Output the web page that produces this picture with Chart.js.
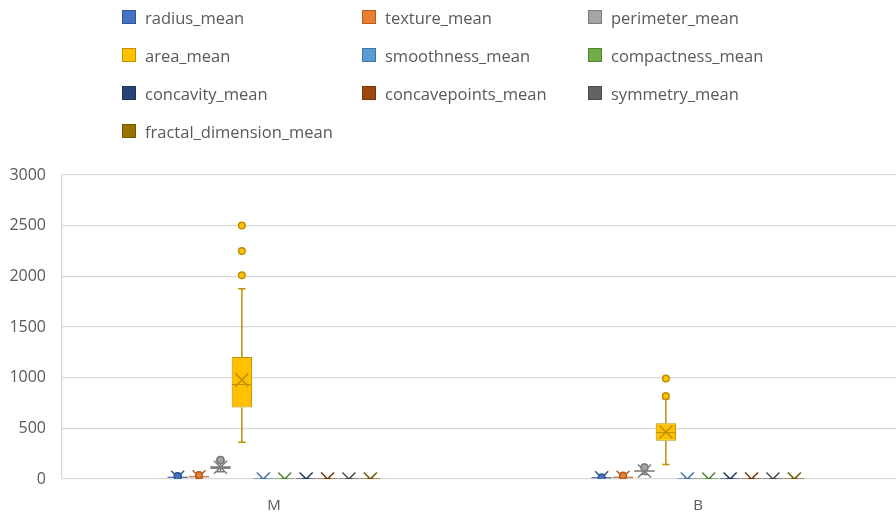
<!DOCTYPE html>
<html>
<head>
<meta charset="utf-8">
<script src="https://cdn.jsdelivr.net/npm/chart.js@4.4.1/dist/chart.umd.min.js"></script>
<style>
body{margin:0;overflow:hidden;background:#fff;font-family:"Open Sans",sans-serif}
#wrap{position:relative;width:910px;height:516px}
#legend{position:absolute;left:0;top:0;width:896px;height:150px}
.item{position:absolute;display:flex;align-items:center;color:#595959;font-size:16.5px;white-space:nowrap}
.item span.box{display:inline-block;width:14px;height:14px;margin-right:9px;box-sizing:border-box;border:1px solid}
</style>
</head>
<body>
<div id="wrap">
  <canvas id="chart" width="910" height="516"></canvas>
  <div id="legend"></div>
</div>
<script>
const categories = ['M', 'B'];
const seriesNames = ['radius_mean', 'texture_mean', 'perimeter_mean', 'area_mean', 'smoothness_mean',
    'compactness_mean', 'concavity_mean', 'concavepoints_mean', 'symmetry_mean', 'fractal_dimension_mean'];
const seriesColors = ['#4472C4', '#ED7D31', '#A5A5A5', '#FFC000', '#5B9BD5',
    '#70AD47', '#264478', '#9E480E', '#636363', '#997300'];

// each entry is [M, B]
const whiskerMin = [[10.95, 6.98], [10.4, 9.7], [71.9, 43.8], [361.6, 143.5], [0.07, 0.05],
    [0.05, 0.02], [0.02, 0], [0.02, 0], [0.13, 0.11], [0.05, 0.05]];
const q1 = [[15.1, 11.1], [19.3, 15.1], [98.7, 70.9], [705, 378], [0.09, 0.08],
    [0.11, 0.06], [0.11, 0.02], [0.06, 0.01], [0.17, 0.16], [0.06, 0.06]];
const median = [[17.3, 12.2], [21.5, 17.4], [114.2, 78.2], [932, 458], [0.1, 0.09],
    [0.13, 0.08], [0.15, 0.04], [0.09, 0.02], [0.19, 0.17], [0.06, 0.06]];
const q3 = [[19.6, 13.4], [23.8, 19.8], [129.9, 86.1], [1204, 551], [0.11, 0.1],
    [0.17, 0.1], [0.2, 0.06], [0.1, 0.03], [0.21, 0.19], [0.07, 0.07]];
const whiskerMax = [[25.2, 16.8], [30, 26.6], [171.5, 108.4], [1878, 790], [0.14, 0.13],
    [0.28, 0.16], [0.33, 0.12], [0.2, 0.06], [0.27, 0.24], [0.08, 0.08]];
const means = [[17.5, 12.1], [21.6, 17.9], [115.4, 78.1], [978, 463], [0.1, 0.09],
    [0.15, 0.08], [0.16, 0.05], [0.09, 0.03], [0.19, 0.17], [0.06, 0.06]];
const outliers = [[[27.2, 28.1], [17.9]], [[33.6, 39.3], [29.9, 33.8]], [[182.1, 186.9, 188.5], [112.8, 114.6]],
    [[2010, 2250, 2501], [819, 992]], [[], []], [[], []], [[], []], [[], []], [[], []], [[], []]];
const yTicks = [0, 500, 1000, 1500, 2000, 2500, 3000];

function darken(hex, f) {
    const n = parseInt(hex.slice(1), 16);
    const r = Math.round(((n >> 16) & 255) * f), g = Math.round(((n >> 8) & 255) * f), b = Math.round((n & 255) * f);
    return `rgb(${r},${g},${b})`;
}

// legend (3 columns)
const colLeft = [122, 362, 588];
const legend = document.getElementById('legend');
seriesNames.forEach((name, i) => {
    const top = 17 + Math.floor(i / 3) * 38;
    legend.insertAdjacentHTML('beforeend',
        `<div class="item" style="left:${colLeft[i % 3]}px;top:${top - 11}px;height:22px">
            <span class="box" style="background:${seriesColors[i]};border-color:${darken(seriesColors[i], 0.75)}"></span>${name}
        </div>`);
});

const datasets = seriesNames.map((name, i) => ({
    label: name,
    data: categories.map((c, j) => [q1[i][j], q3[i][j]]),
    backgroundColor: seriesColors[i],
    borderColor: darken(seriesColors[i], 0.75),
    borderWidth: 1,
    borderSkipped: false,
    barPercentage: 0.95,
    categoryPercentage: 0.505
}));

// whiskers, medians, means and outliers on top of the box bars
const boxExtras = {
    id: 'boxExtras',
    afterDatasetsDraw(chart) {
        const ctx = chart.ctx, y = chart.scales.y, area = chart.chartArea;
        ctx.save();
        ctx.beginPath();
        ctx.rect(area.left, area.top, area.right - area.left, area.bottom - area.top);
        ctx.clip();
        chart.data.datasets.forEach((ds, i) => {
            const meta = chart.getDatasetMeta(i);
            const col = ds.borderColor;
            meta.data.forEach((el, j) => {
                const x = el.x, w = el.width;
                ctx.strokeStyle = col;
                ctx.lineWidth = 1.5;
                ctx.beginPath();
                ctx.moveTo(x, y.getPixelForValue(q3[i][j]));
                ctx.lineTo(x, y.getPixelForValue(whiskerMax[i][j]));
                ctx.moveTo(x, y.getPixelForValue(q1[i][j]));
                ctx.lineTo(x, y.getPixelForValue(whiskerMin[i][j]));
                const cap = w * 0.18;
                [whiskerMax[i][j], whiskerMin[i][j]].forEach(v => {
                    const py = y.getPixelForValue(v);
                    ctx.moveTo(x - cap, py);
                    ctx.lineTo(x + cap, py);
                });
                ctx.stroke();
                // median
                ctx.lineWidth = 1;
                ctx.beginPath();
                const my = y.getPixelForValue(median[i][j]);
                ctx.moveTo(x - w / 2, my);
                ctx.lineTo(x + w / 2, my);
                ctx.stroke();
                // mean X
                const s = 6.5, py = y.getPixelForValue(means[i][j]);
                ctx.lineWidth = 1.5;
                ctx.beginPath();
                ctx.moveTo(x - s, py - s); ctx.lineTo(x + s, py + s);
                ctx.moveTo(x - s, py + s); ctx.lineTo(x + s, py - s);
                ctx.stroke();
                // outliers
                outliers[i][j].forEach(v => {
                    ctx.beginPath();
                    ctx.arc(x, y.getPixelForValue(v), 3.3, 0, Math.PI * 2);
                    ctx.fillStyle = ds.backgroundColor;
                    ctx.fill();
                    ctx.lineWidth = 1.5;
                    ctx.stroke();
                });
            });
        });
        ctx.restore();
    }
};

new Chart(document.getElementById('chart'), {
    type: 'bar',
    data: { labels: categories, datasets: datasets },
    options: {
        responsive: false,
        animation: false,
        layout: { padding: { top: 175, left: 0, right: 0, bottom: 0 } },
        plugins: { legend: { display: false }, tooltip: { enabled: false } },
        scales: {
            x: {
                grid: { display: false },
                border: { display: false },
                ticks: { color: '#595959', font: { family: 'Open Sans', size: 15 }, padding: 10 },
                afterFit: s => { s.height = 37; }
            },
            y: {
                min: 0, max: 3000,
                afterBuildTicks: s => { s.ticks = yTicks.map(v => ({ value: v })); },
                grid: { color: '#d9d9d9', lineWidth: 1.3, drawTicks: false },
                border: { display: true, color: '#d9d9d9', width: 1.3 },
                ticks: { color: '#595959', font: { family: 'Open Sans', size: 16 }, padding: 16,
                    callback: v => String(v) },
                afterFit: s => { s.width = 62; }
            }
        }
    },
    plugins: [boxExtras]
});
</script>
</body>
</html>
